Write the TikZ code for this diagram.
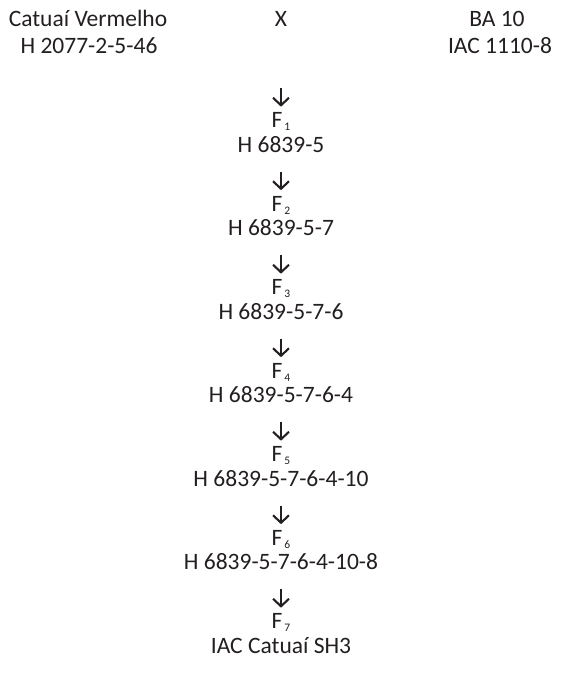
\documentclass[tikz,border=0pt]{standalone}
\usepackage{fontspec}
\setmainfont{Carlito}
\usetikzlibrary{arrows.meta}
\definecolor{ink}{HTML}{231F20}
\newcommand{\fsub}[1]{F\kern2bp\raisebox{-3bp}{\fontsize{11.5bp}{11.5bp}\selectfont #1}}
\begin{document}
\begin{tikzpicture}[x=1bp,y=-1bp,
  lbl/.style={anchor=base,inner sep=0pt,text=ink,font=\fontsize{23.5bp}{28bp}\selectfont,text height=15.1bp,text depth=0pt},
  arr/.style={draw=ink,line width=2.1bp,-{Straight Barb[length=7.5bp,width=16bp,line width=2.1bp]},shorten <=19.5bp,shorten >=6.5bp}]
\useasboundingbox (0,0) rectangle (562,697);
\node[lbl] (p1a) at (88,26.5) {Catuaí Vermelho};
\node[lbl] (p1b) at (89,53.5) {H 2077-2-5-46};
\node[lbl] (x) at (281,26.5) {X};
\node[lbl] (p2a) at (497,26.5) {BA 10};
\node[lbl] (p2b) at (500,53.5) {IAC 1110-8};
\foreach \k/\name in {1/H 6839-5,2/H 6839-5-7,3/H 6839-5-7-6,4/H 6839-5-7-6-4,5/H 6839-5-7-6-4-10,6/H 6839-5-7-6-4-10-8,7/IAC Catuaí SH3}{
  \node[lbl] (f\k) at (281,{127.5+83.5*(\k-1)}) {\fsub{\k}};
  \node[lbl] (h\k) at (281,{152+83.5*(\k-1)}) {\name};
}
\draw[arr,shorten <=61.5bp,shorten >=5.5bp] (x) -- (f1);
\foreach \k [count=\j from 2] in {1,...,6}{
  \draw[arr,shorten >=5.5bp] (h\k) -- (f\j);
}
\end{tikzpicture}
\end{document}
